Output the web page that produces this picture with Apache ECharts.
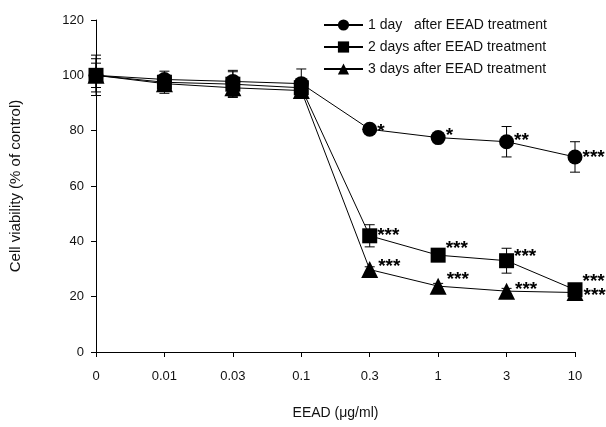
<!DOCTYPE html>
<html>
<head>
<meta charset="utf-8">
<script src="https://cdn.jsdelivr.net/npm/echarts@6/dist/echarts.min.js"></script>
<style>html,body{margin:0;padding:0;background:#fff;}#c{width:606px;height:427px;}</style>
</head>
<body>
<div id="c"></div>
<script>
var categories = ['0', '0.01', '0.03', '0.1', '0.3', '1', '3', '10'];
var seriesNames = ['1 day   after EEAD treatment', '2 days after EEAD treatment', '3 days after EEAD treatment'];
var day1 = [100, 98.5, 97.8, 97, 80.5, 77.5, 76, 70.5];
var day2 = [100, 97.5, 96.8, 95.5, 42, 35, 33, 22.5];
var day3 = [100, 97, 95.5, 94.5, 29.8, 23.8, 22, 21.5];
var err1 = [7.3, 1.5, 4, 5.3, 1, 1, 5.5, 5.5];
var err2 = [6, 4, 4.5, 1, 4, 1, 4.5, 1];
var err3 = [4.4, 1.5, 3.5, 1, 1, 1, 1, 1];
var ann1 = ['', '', '', '', '*', '*', '**', '***'];
var ann2 = ['', '', '', '', '***', '***', '***', '***'];
var ann3 = ['', '', '', '', '***', '***', '***', '***'];

var font = '"Liberation Sans", Arial, sans-serif';

function errData(vals, errs) {
  return vals.map(function (v, i) { return [i, v - errs[i], v + errs[i]]; });
}
function renderErr(params, api) {
  var x = api.value(0);
  var lo = api.coord([x, api.value(1)]);
  var hi = api.coord([x, api.value(2)]);
  var hw = 5;
  var st = { stroke: '#000', lineWidth: 1 };
  return {
    type: 'group',
    children: [
      { type: 'line', shape: { x1: lo[0], y1: lo[1], x2: hi[0], y2: hi[1] }, style: st },
      { type: 'line', shape: { x1: lo[0] - hw, y1: lo[1], x2: lo[0] + hw, y2: lo[1] }, style: st },
      { type: 'line', shape: { x1: hi[0] - hw, y1: hi[1], x2: hi[0] + hw, y2: hi[1] }, style: st }
    ]
  };
}
function lineSeries(name, vals, ann, symbol, size, offsets) {
  return {
    name: name,
    type: 'line',
    data: vals.map(function (v, i) {
      return {
        value: v,
        label: { offset: offsets[i] || [0, -4] }
      };
    }),
    symbol: symbol,
    symbolSize: size,
    showAllSymbol: true,
    z: 3,
    lineStyle: { color: '#000', width: 1 },
    itemStyle: { color: '#000' },
    label: {
      show: true,
      position: 'right',
      distance: 0,
      color: '#000',
      fontFamily: font,
      fontWeight: 'bold',
      fontSize: 19,
      formatter: function (p) { return ann[p.dataIndex]; }
    },
    emphasis: { disabled: true },
    animation: false
  };
}
function errSeries(vals, errs) {
  return {
    type: 'custom',
    renderItem: renderErr,
    data: errData(vals, errs),
    encode: { x: 0, y: [1, 2] },
    z: 1,
    silent: true,
    animation: false
  };
}

var chart = echarts.init(document.getElementById('c'), null, { renderer: 'canvas' });
chart.setOption({
  backgroundColor: '#fff',
  animation: false,
  textStyle: { fontFamily: font },
  grid: { left: 93, right: 31, top: 20, bottom: 75 },
  legend: {
    left: 318,
    top: 13,
    orient: 'vertical',
    itemWidth: 39,
    itemHeight: 14,
    itemGap: 8,
    data: seriesNames,
    textStyle: { fontFamily: font, fontSize: 14, color: '#111' },
    selectedMode: false
  },
  xAxis: {
    type: 'category',
    data: categories,
    boundaryGap: false,
    name: 'EEAD (\u03bcg/ml)',
    nameLocation: 'middle',
    nameGap: 54,
    nameTextStyle: { fontFamily: font, fontSize: 14, color: '#111' },
    axisLine: { lineStyle: { color: '#000', width: 1 } },
    axisTick: { show: true, length: 5, alignWithLabel: true, lineStyle: { color: '#000' } },
    axisLabel: { fontFamily: font, fontSize: 13, color: '#111', margin: 18, interval: 0 },
    splitLine: { show: false }
  },
  yAxis: {
    type: 'value',
    min: 0,
    max: 120,
    interval: 20,
    name: 'Cell viability (% of control)',
    nameLocation: 'middle',
    nameGap: 73,
    nameTextStyle: { fontFamily: font, fontSize: 15, color: '#111' },
    axisLine: { show: true, lineStyle: { color: '#000', width: 1 } },
    axisTick: { show: true, length: 5, lineStyle: { color: '#000' } },
    axisLabel: { fontFamily: font, fontSize: 13, color: '#111', margin: 12 },
    splitLine: { show: false }
  },
  series: [
    errSeries(day1, err1),
    errSeries(day2, err2),
    errSeries(day3, err3),
    lineSeries(seriesNames[0], day1, ann1, 'circle', 15,
      { 4: [0, 2], 5: [0, -2], 6: [0, -1], 7: [0, 1] }),
    lineSeries(seriesNames[1], day2, ann2, 'rect', 15,
      { 4: [0, 0], 5: [0, -6], 6: [0, -4], 7: [0, -8] }),
    lineSeries(seriesNames[2], day3, ann3, 'triangle', 17,
      { 4: [0, -3], 5: [0, -6], 6: [0, -1], 7: [0, 3] })
  ]
});
</script>
</body>
</html>
